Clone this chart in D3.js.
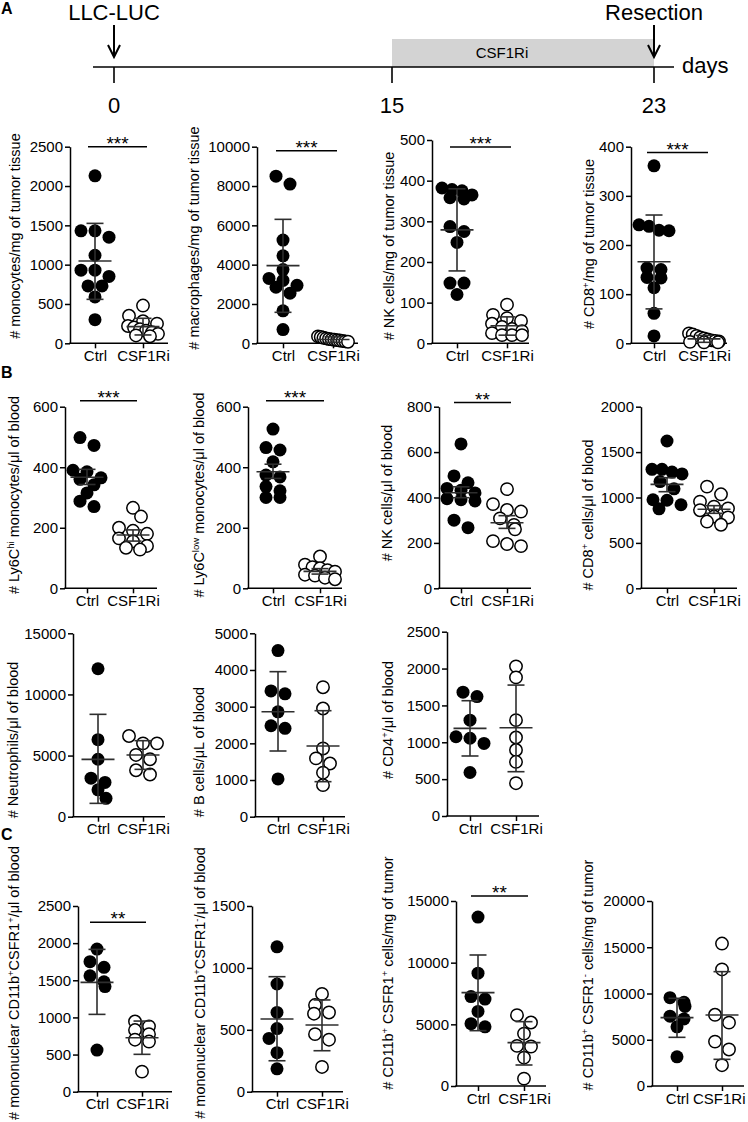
<!DOCTYPE html>
<html><head><meta charset="utf-8">
<script src="https://cdn.jsdelivr.net/npm/d3@7"></script>
<style>
body{margin:0;background:#fff}
svg{display:block}
text{font-family:"Liberation Sans",Arial,Helvetica,sans-serif;fill:#000}
</style>
</head><body>
<svg id="fig" width="748" height="1122"></svg>
<script>
// ---------------- DATA ----------------
const categories = ["Ctrl", "CSF1Ri"];
const timelineDays = [0, 15, 23];
const timelineLabels = ["0", "15", "23"];

// A: tumor tissue
const monoTumorCtrl = [2130,1430,1430,1350,1120,930,930,850,730,730,590,300];
const monoTumorCsf  = [480,350,280,250,220,200,180,160,140,120,100,90];
const monoTumorStats = [[1047,559,1525],[212,106,318]]; // [mean, low, high]
const monoTumorTicks = [0,500,1000,1500,2000,2500];

const macroTumorCtrl = [8500,8100,5250,4450,3750,3300,3200,2950,2850,2550,1650,700];
const macroTumorCsf  = [350,320,280,250,220,200,180,160,140,120,100,80];
const macroTumorStats = [[3950,1576,6305],[190,50,330]];
const macroTumorTicks = [0,2000,4000,6000,8000,10000];

const nkTumorCtrl = [382,378,375,365,358,355,287,275,248,148,148,120];
const nkTumorCsf  = [95,70,62,55,48,40,35,30,25,20,20,20];
const nkTumorStats = [[279,178,380],[43,20,65]];
const nkTumorTicks = [0,100,200,300,400,500];

const cd8TumorCtrl = [361,241,238,230,229,153,150,134,133,113,61,15];
const cd8TumorCsf  = [20,18,15,12,10,8,6,5,4,3,2,2];
const cd8TumorStats = [[166,70,261],[9,2,16]];
const cd8TumorTicks = [0,100,200,300,400];

// B: blood
const ly6cHiCtrl = [498,472,390,385,365,360,342,315,288,270];
const ly6cHiCsf  = [266,237,200,190,180,165,155,140,134,128];
const ly6cHiStats = [[367,343,393],[176,156,193]];
const ly6cHiTicks = [0,200,400,600];

const ly6cLowCtrl = [526,465,457,418,374,368,336,322,300,300];
const ly6cLowCsf  = [105,78,70,66,60,55,45,42,35,30];
const ly6cLowStats = [[385,363,410],[56,47,65]];
const ly6cLowTicks = [0,200,400,600];

const nkBloodCtrl = [636,495,465,440,432,420,395,390,385,300,267];
const nkBloodCsf  = [437,371,345,338,308,279,260,208,195,186];
const nkBloodStats = [[421,399,447],[289,264,320]];
const nkBloodTicks = [0,200,400,600,800];

const cd8BloodCtrl = [1622,1310,1310,1280,1260,1175,1095,975,970,920,875];
const cd8BloodCsf  = [1120,1035,955,900,880,860,790,780,735,700];
const cd8BloodStats = [[1145,1064,1218],[870,826,910]];
const cd8BloodTicks = [0,500,1000,1500,2000];

const neutroCtrl = [12100,6300,4700,3150,2800,2200,1500];
const neutroCsf  = [6600,6000,6000,5050,4700,3800,3450];
const neutroStats = [[4690,1091,8372],[5045,3872,6218]];
const neutroTicks = [0,5000,10000,15000];

const bCellCtrl = [4530,3430,3350,2860,2480,2410,1030];
const bCellCsf  = [3530,2950,1860,1590,1450,1200,860];
const bCellStats = [[2863,1791,3954],[1927,955,2890]];
const bCellTicks = [0,1000,2000,3000,4000,5000];

const cd4Ctrl = [1680,1620,1300,1075,1055,985,590];
const cd4Csf  = [2030,1880,1300,1065,895,735,445];
const cd4Stats = [[1189,814,1564],[1198,601,1776]];
const cd4Ticks = [0,500,1000,1500,2000,2500];

// C
const posBloodCtrl = [1920,1750,1675,1560,1480,1415,560];
const posBloodCsf  = [945,880,830,775,700,675,270];
const posBloodStats = [[1472,1041,1916],[727,503,951]];
const posBloodTicks = [0,500,1000,1500,2000,2500];

const negBloodCtrl = [1170,870,640,510,430,315,185];
const negBloodCsf  = [790,700,640,630,465,420,200];
const negBloodStats = [[587,250,929],[539,331,741]];
const negBloodTicks = [0,500,1000,1500];

const posTumorCtrl = [13700,9150,7250,7050,6050,5050,4800];
const posTumorCsf  = [5750,5150,4250,3250,3200,2300,600];
const posTumorStats = [[7568,4487,10622],[3514,1703,5217]];
const posTumorTicks = [0,5000,10000,15000];

const negTumorCtrl = [9550,9050,8600,7550,7250,6400,3150];
const negTumorCsf  = [15400,12600,7700,6850,4800,3950,2250];
const negTumorStats = [[7388,5262,9478],[7676,2883,12362]];
const negTumorTicks = [0,5000,10000,15000,20000];

// significance: [label, bar height in data units]
const monoTumorSig = ["***", 2500];
const macroTumorSig = ["***", 9800];
const nkTumorSig = ["***", 483];
const cd8TumorSig = ["***", 388];
const ly6cHiSig = ["***", 620];
const ly6cLowSig = ["***", 620];
const nkBloodSig = ["**", 818];
const posBloodSig = ["**", 2280];
const posTumorSig = ["**", 15400];

// axis titles: segments [text, superscript?]
const T = {
  monoTumor: [["# monocytes/mg of tumor tissue",0]],
  macroTumor: [["# macrophages/mg of tumor tissue",0]],
  nkTumor: [["# NK cells/mg of tumor tissue",0]],
  cd8Tumor: [["# CD8",0],["+",1],["/mg of tumor tissue",0]],
  ly6cHi: [["# Ly6C",0],["hi",1],[" monocytes/\u03bcl of blood",0]],
  ly6cLow: [["# Ly6C",0],["low",1],[" monocytes/\u03bcl of blood",0]],
  nkBlood: [["# NK cells/\u03bcl of blood",0]],
  cd8Blood: [["# CD8",0],["+",1],[" cells/\u03bcl of blood",0]],
  neutro: [["# Neutrophils/\u03bcl of blood",0]],
  bCell: [["# B cells/\u03bcL of blood",0]],
  cd4: [["# CD4",0],["+",1],["/\u03bcl of blood",0]],
  posBlood: [["# mononuclear CD11b",0],["+",1],["CSFR1",0],["+",1],["/\u03bcl of blood",0]],
  negBlood: [["# mononuclear CD11b",0],["+",1],["CSFR1",0],["-",1],["/\u03bcl of blood",0]],
  posTumor: [["# CD11b",0],["+",1],[" CSFR1",0],["+",1],[" cells/mg of tumor",0]],
  negTumor: [["# CD11b",0],["+",1],[" CSFR1",0],["-",1],[" cells/mg of tumor",0]]
};

// ---------------- LAYOUT (positions only) ----------------
const panels = [
  {t:T.monoTumor, ctrl:monoTumorCtrl, csf:monoTumorCsf, st:monoTumorStats, ticks:monoTumorTicks, sig:monoTumorSig,
   x0:70, cx:[95,143], x1:168, yT:146.7, yB:343.3, tx:20, ty:236},
  {t:T.macroTumor, ctrl:macroTumorCtrl, csf:macroTumorCsf, st:macroTumorStats, ticks:macroTumorTicks, sig:macroTumorSig,
   x0:257, cx:[283,333], x1:358, yT:146.7, yB:343.3, tx:199, ty:238},
  {t:T.nkTumor, ctrl:nkTumorCtrl, csf:nkTumorCsf, st:nkTumorStats, ticks:nkTumorTicks, sig:nkTumorSig,
   x0:432, cx:[457,507], x1:529, yT:140, yB:343.3, tx:394, ty:246},
  {t:T.cd8Tumor, ctrl:cd8TumorCtrl, csf:cd8TumorCsf, st:cd8TumorStats, ticks:cd8TumorTicks, sig:cd8TumorSig,
   x0:631, cx:[654,704], x1:727, yT:146.7, yB:343.3, tx:594, ty:244},

  {t:T.ly6cHi, ctrl:ly6cHiCtrl, csf:ly6cHiCsf, st:ly6cHiStats, ticks:ly6cHiTicks, sig:ly6cHiSig,
   x0:65, cx:[87,133], x1:157, yT:406.7, yB:588.3, tx:19, ty:495},
  {t:T.ly6cLow, ctrl:ly6cLowCtrl, csf:ly6cLowCsf, st:ly6cLowStats, ticks:ly6cLowTicks, sig:ly6cLowSig,
   x0:248, cx:[273,320], x1:342, yT:406.7, yB:588.3, tx:204, ty:495},
  {t:T.nkBlood, ctrl:nkBloodCtrl, csf:nkBloodCsf, st:nkBloodStats, ticks:nkBloodTicks, sig:nkBloodSig,
   x0:439, cx:[461,507], x1:531, yT:406.7, yB:588.3, tx:392, ty:493},
  {t:T.cd8Blood, ctrl:cd8BloodCtrl, csf:cd8BloodCsf, st:cd8BloodStats, ticks:cd8BloodTicks, sig:null,
   x0:641, cx:[667,714], x1:737, yT:406.7, yB:588.3, tx:593, ty:515},

  {t:T.neutro, ctrl:neutroCtrl, csf:neutroCsf, st:neutroStats, ticks:neutroTicks, sig:null,
   x0:73, cx:[98,143], x1:165, yT:633.3, yB:816.7, tx:18, ty:740},
  {t:T.bCell, ctrl:bCellCtrl, csf:bCellCsf, st:bCellStats, ticks:bCellTicks, sig:null,
   x0:255, cx:[278,323], x1:345, yT:633.3, yB:816.7, tx:204, ty:752},
  {t:T.cd4, ctrl:cd4Ctrl, csf:cd4Csf, st:cd4Stats, ticks:cd4Ticks, sig:null,
   x0:447, cx:[470,516], x1:539, yT:631.7, yB:816, tx:393, ty:720},

  {t:T.posBlood, ctrl:posBloodCtrl, csf:posBloodCsf, st:posBloodStats, ticks:posBloodTicks, sig:posBloodSig,
   x0:78, cx:[97,142], x1:172, yT:906, yB:1091.7, tx:19, ty:983},
  {t:T.negBlood, ctrl:negBloodCtrl, csf:negBloodCsf, st:negBloodStats, ticks:negBloodTicks, sig:null,
   x0:252, cx:[277,322], x1:343, yT:906, yB:1091.7, tx:205, ty:983},
  {t:T.posTumor, ctrl:posTumorCtrl, csf:posTumorCsf, st:posTumorStats, ticks:posTumorTicks, sig:posTumorSig,
   x0:456, cx:[478,524], x1:546, yT:901, yB:1086, tx:393, ty:973},
  {t:T.negTumor, ctrl:negTumorCtrl, csf:negTumorCsf, st:negTumorStats, ticks:negTumorTicks, sig:null,
   x0:652, cx:[677,722], x1:744, yT:901, yB:1086, tx:593, ty:975}
];

const svg = d3.select("#fig");
const AX = 1.5;

// ---------------- TIMELINE ----------------
const tl = d3.scaleLinear().domain(timelineDays).range([114, 392, 654]);
const tg = svg.append("g");
tg.append("rect").attr("x", tl(15)).attr("y", 39).attr("width", tl(23) - tl(15)).attr("height", 28)
  .attr("fill", "#d3d3d3");
tg.append("line").attr("x1", 93).attr("x2", 674).attr("y1", 67).attr("y2", 67)
  .attr("stroke", "#000").attr("stroke-width", 1.6);
timelineDays.forEach((d, i) => {
  tg.append("line").attr("x1", tl(d)).attr("x2", tl(d)).attr("y1", 67).attr("y2", 83)
    .attr("stroke", "#000").attr("stroke-width", 1.6);
  tg.append("text").attr("x", tl(d)).attr("y", 113).attr("text-anchor", "middle")
    .attr("font-size", 22).text(timelineLabels[i]);
});
function arrow(x) {
  tg.append("line").attr("x1", x).attr("x2", x).attr("y1", 25).attr("y2", 57)
    .attr("stroke", "#000").attr("stroke-width", 2);
  tg.append("path").attr("d", `M${x-6},${45}L${x},${57}L${x+6},${45}`)
    .attr("fill", "none").attr("stroke", "#000").attr("stroke-width", 2);
}
arrow(tl(0)); arrow(tl(23));
tg.append("text").attr("x", tl(0)).attr("y", 20).attr("text-anchor", "middle").attr("font-size", 22).text("LLC-LUC");
tg.append("text").attr("x", tl(23)).attr("y", 20).attr("text-anchor", "middle").attr("font-size", 22).text("Resection");
tg.append("text").attr("x", tl(15) + 110).attr("y", 58).attr("text-anchor", "middle").attr("font-size", 15).text("CSF1Ri");
tg.append("text").attr("x", 682).attr("y", 73).attr("font-size", 22).text("days");

// section letters
[["A", 14], ["B", 378], ["C", 840]].forEach(([l, y]) => {
  svg.append("text").attr("x", 1).attr("y", y).attr("font-size", 16).attr("font-weight", "bold").text(l);
});

// ---------------- PANELS ----------------
// row-based dot spreading (GraphPad-like)
function swarm(vals, y, cx) {
  const pts = vals.map(v => ({v, py: y(v)})).sort((a, b) => a.py - b.py);
  const groups = []; let g = null;
  for (const p of pts) {
    if (!g || p.py - g[0].py > 8) { g = [p]; groups.push(g); } else g.push(p);
  }
  groups.forEach(g => {
    const n = g.length;
    const d = n > 1 ? Math.min(14, 30 / (n - 1)) : 0;
    g.forEach((p, j) => { p.px = cx + (j - (n - 1) / 2) * d; });
  });
  for (let i = 1; i < groups.length; i++) {
    const cur = groups[i], prev = groups[i - 1];
    if (cur.length === 1) {
      const p = cur[0];
      const clash = prev.some(q => Math.hypot(q.px - p.px, q.py - p.py) < 10);
      if (clash) p.px = cx + ((i % 2) ? 1 : -1) * 8;
    }
  }
  return pts;
}

panels.forEach(p => {
  const g = svg.append("g");
  const y = d3.scaleLinear().domain([0, d3.max(p.ticks)]).range([p.yB, p.yT]);
  const x = d3.scalePoint().domain(categories).range(p.cx);

  // y axis
  const ya = g.append("g").attr("transform", `translate(${p.x0},0)`)
    .call(d3.axisLeft(y).tickValues(p.ticks).tickSize(5).tickSizeOuter(0).tickPadding(2).tickFormat(d3.format("d")));
  ya.selectAll("path,line").attr("stroke", "#000").attr("stroke-width", AX);
  ya.selectAll("text").attr("font-size", 15).attr("fill", "#000")
    .style("font-family", '"Liberation Sans",Arial,sans-serif');

  // x axis
  const xa = g.append("g").attr("transform", `translate(0,${p.yB})`)
    .call(d3.axisBottom(x).tickSize(5).tickSizeOuter(0).tickPadding(2));
  xa.select(".domain").remove();
  xa.selectAll("line").attr("stroke", "#000").attr("stroke-width", AX);
  xa.selectAll("text").attr("font-size", 15).attr("fill", "#000")
    .style("font-family", '"Liberation Sans",Arial,sans-serif');
  // keep category labels inside the page
  xa.selectAll("text").each(function(d) {
    const b = this.getBBox();
    const right = x(d) + b.x + b.width;
    if (right > 745) d3.select(this).attr("x", 745 - right);
  });
  g.append("line").attr("x1", p.x0 - 0.75).attr("x2", p.x1).attr("y1", p.yB).attr("y2", p.yB)
    .attr("stroke", "#000").attr("stroke-width", AX);

  // points
  const ctrlPts = swarm(p.ctrl, y, x("Ctrl"));
  const csfPts = swarm(p.csf, y, x("CSF1Ri"));
  g.append("g").selectAll("circle").data(ctrlPts).join("circle")
    .attr("cx", d => d.px).attr("cy", d => d.py).attr("r", 6.5).attr("fill", "#000");
  g.append("g").selectAll("circle").data(csfPts).join("circle")
    .attr("cx", d => d.px).attr("cy", d => d.py).attr("r", 6.2)
    .attr("fill", "#fff").attr("stroke", "#000").attr("stroke-width", 1.5);

  // mean and error bars
  const eb = g.append("g").attr("stroke", "#2e2e2e").attr("stroke-width", 1.6);
  categories.forEach((c, i) => {
    const [m, lo, hi] = p.st[i];
    const cx = x(c);
    eb.append("line").attr("x1", cx).attr("x2", cx).attr("y1", y(lo)).attr("y2", y(hi));
    eb.append("line").attr("x1", cx - 8.5).attr("x2", cx + 8.5).attr("y1", y(lo)).attr("y2", y(lo));
    eb.append("line").attr("x1", cx - 8.5).attr("x2", cx + 8.5).attr("y1", y(hi)).attr("y2", y(hi));
    eb.append("line").attr("x1", cx - 16.5).attr("x2", cx + 16.5).attr("y1", y(m)).attr("y2", y(m));
  });

  // significance
  if (p.sig) {
    const by = y(p.sig[1]);
    const a = x("Ctrl") - 7, b = x("CSF1Ri") + 4;
    g.append("line").attr("x1", a).attr("x2", b).attr("y1", by).attr("y2", by)
      .attr("stroke", "#000").attr("stroke-width", 1.5);
    g.append("text").attr("x", (a + b) / 2).attr("y", by + 3).attr("text-anchor", "middle")
      .attr("font-size", 19).text(p.sig[0]);
  }

  // y title
  const tt = g.append("text").attr("transform", `translate(${p.tx},${p.ty}) rotate(-90)`)
    .attr("text-anchor", "middle").attr("font-size", 14.5);
  let sup = false;
  p.t.forEach(([s, isSup]) => {
    const ts = tt.append("tspan").text(s);
    if (isSup && !sup) { ts.attr("dy", -5).attr("font-size", 9.5); sup = true; }
    else if (isSup && sup) { ts.attr("font-size", 9.5); }
    else if (!isSup && sup) { ts.attr("dy", 5); sup = false; }
  });
});
</script>
</body></html>
